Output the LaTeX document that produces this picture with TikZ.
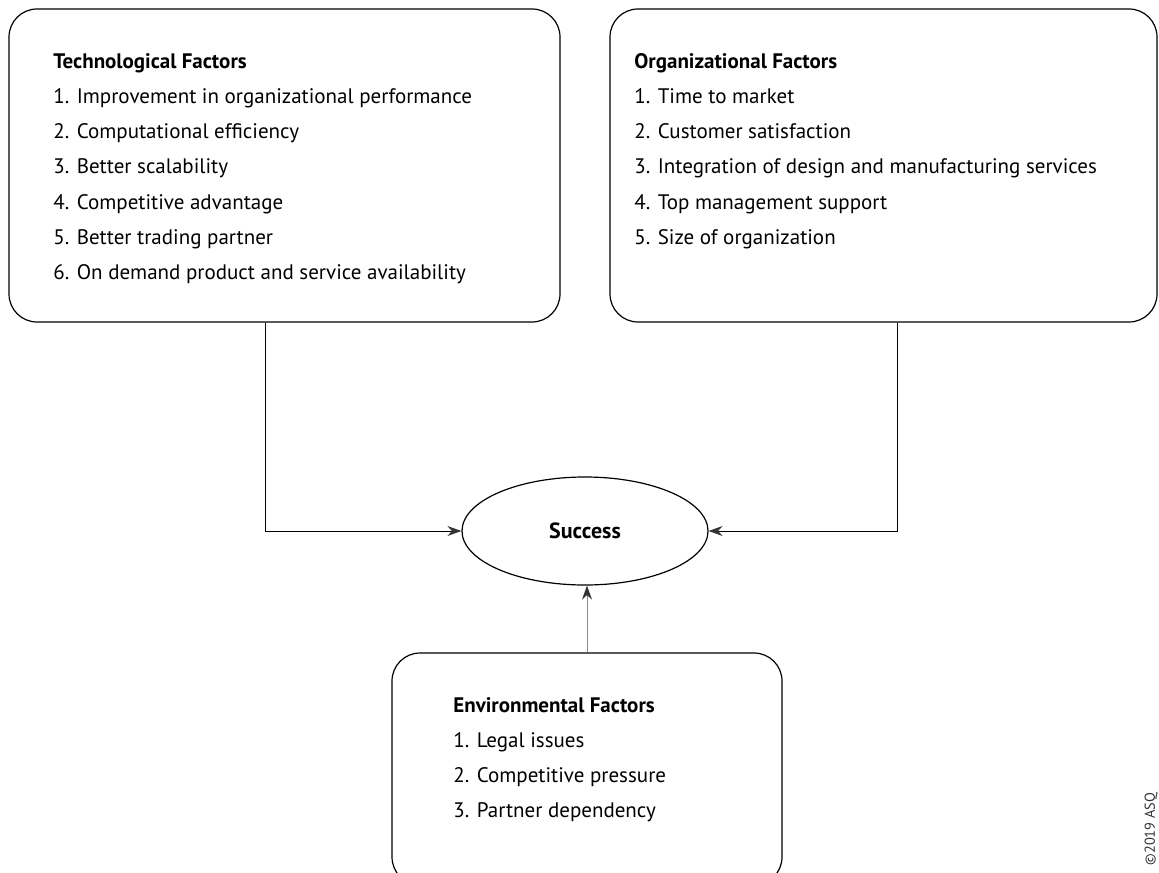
\documentclass[tikz,border=0pt]{standalone}
\usepackage{fontspec}
\setmainfont{PT Sans}
\usepackage{tikz}
\usetikzlibrary{shapes.geometric,arrows.meta}
\definecolor{tipgray}{HTML}{333333}
\definecolor{linegray}{HTML}{8A8A8A}

\begin{document}
\begin{tikzpicture}[x=0.5pt,y=-0.5pt]
  \tikzset{factorbox/.style={draw=black,line width=0.6pt,rounded corners=14pt,inner sep=0pt}}
  \tikzset{factorlist/.style={anchor=north west,inner sep=0pt,align=left,font=\fontsize{10.5}{17.6}\selectfont}}
  \tikzset{goal/.style={ellipse,draw=black,line width=0.6pt,inner sep=0pt,minimum width=123pt,minimum height=54pt,font=\fontsize{11}{12}\selectfont\bfseries}}
  \tikzset{link/.style={draw=black,line width=0.5pt,-{Stealth[length=7pt,width=5pt,color=tipgray]}}}
  \useasboundingbox (0,0) rectangle (1159,872);
  \node[factorbox,minimum width=275.5pt,minimum height=156.5pt] (tech) at (284.5,165.5) {};
  \node[factorbox,minimum width=273.5pt,minimum height=156.5pt] (org) at (883.5,165.5) {};
  \node[factorbox,minimum width=195pt,minimum height=116pt] (env) at (587,769) {};
  \node[goal] (succ) at (585,531) {Success};
  \node[factorlist] (techlist) at (53,53) {\textbf{Technological Factors}\\
    1. Improvement in organizational performance\\
    2. Computational efficiency\\
    3. Better scalability\\
    4. Competitive advantage\\
    5. Better trading partner\\
    6. On demand product and service availability};
  \node[factorlist] (orglist) at (634,53) {\textbf{Organizational Factors}\\
    1. Time to market\\
    2. Customer satisfaction\\
    3. Integration of design and manufacturing services\\
    4. Top management support\\
    5. Size of organization};
  \node[factorlist] (envlist) at (453,697) {\textbf{Environmental Factors}\\
    1. Legal issues\\
    2. Competitive pressure\\
    3. Partner dependency};
  \draw[link] ([xshift=-9.75pt]tech.south) |- (succ.west);
  \draw[link] ([xshift=6.75pt]org.south) |- (succ.east);
  \draw[link,draw=linegray] (env.north) -- (env.north |- succ.south);
  \node[rotate=90,inner sep=0pt,text=black!80,font=\fontsize{7.2}{8}\selectfont] (note) at (1151,829) {©2019 ASQ};
\end{tikzpicture}
\end{document}
